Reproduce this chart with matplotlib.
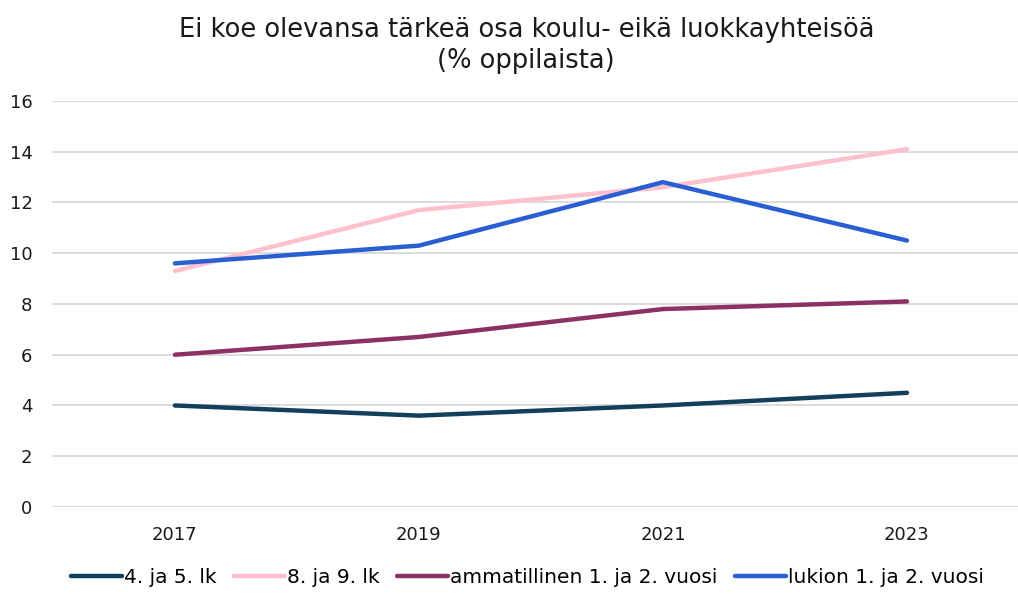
import matplotlib
matplotlib.use("Agg")
import matplotlib.pyplot as plt

years = ["2017", "2019", "2021", "2023"]
lk_4_5 = [4.0, 3.6, 4.0, 4.5]
lk_8_9 = [9.3, 11.7, 12.6, 14.1]
ammatillinen = [6.0, 6.7, 7.8, 8.1]
lukio = [9.6, 10.3, 12.8, 10.5]

series = [
    ("4. ja 5. lk", lk_4_5, "#123f5c"),
    ("8. ja 9. lk", lk_8_9, "#ffc0cd"),
    ("ammatillinen 1. ja 2. vuosi", ammatillinen, "#8c3163"),
    ("lukion 1. ja 2. vuosi", lukio, "#2a5fd4"),
]

plt.rcParams["font.family"] = ["DejaVu Sans"]

fig = plt.figure(figsize=(10.18, 5.94), dpi=100)
ax = fig.add_axes([0.051, 0.1465, 0.949, 0.6835])

x = range(len(years))
for name, vals, col in series:
    ax.plot(x, vals, color=col, lw=3.2, solid_capstyle="round", label=name)

ax.set_ylim(0, 16)
ax.set_yticks(range(0, 17, 2))
ax.set_xlim(-0.504, 3.455)
ax.set_xticks(list(x))
ax.set_xticklabels(years)
ax.grid(axis="y", color="#d9d9d9", lw=1.3)
ax.set_axisbelow(True)
for s in ax.spines.values():
    s.set_visible(False)
ax.tick_params(length=0, labelsize=13, colors="#1a1a1a")
ax.tick_params(axis="x", pad=14)
ax.tick_params(axis="y", pad=14)

fig.text(0.517, 0.972, "Ei koe olevansa tärkeä osa koulu- eikä luokkayhteisöä\n(% oppilaista)",
         ha="center", va="top", fontsize=18.5, color="#1a1a1a", linespacing=1.25)

fig.legend(loc="center", bbox_to_anchor=(0.518, 0.027), ncol=4, frameon=False,
           fontsize=14.5, handlelength=2.5, handletextpad=0.1, columnspacing=0.9)

fig.savefig("out.png", dpi=100)
